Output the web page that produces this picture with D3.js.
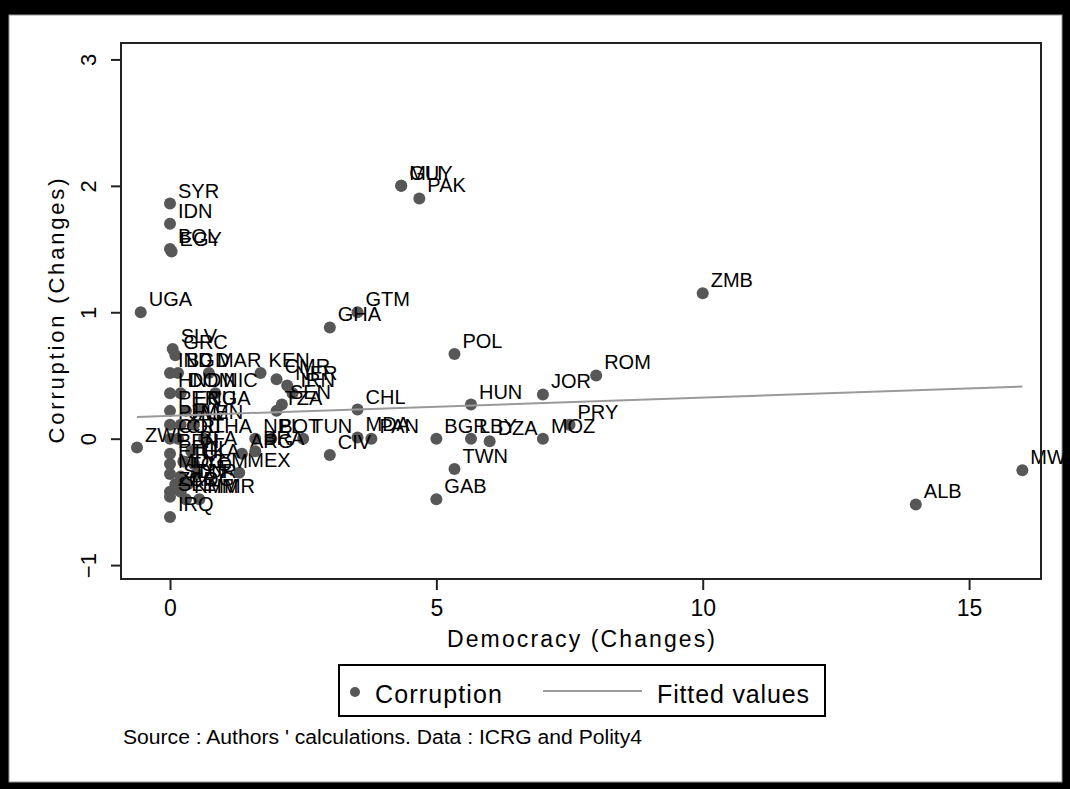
<!DOCTYPE html>
<html>
<head>
<meta charset="utf-8">
<script src="https://cdn.jsdelivr.net/npm/d3@7"></script>
<style>
  body { margin: 0; background: #000; }
  svg { display: block; }
  text { font-family: "Liberation Sans", Arial, sans-serif; }
</style>
</head>
<body>
<script>
// country codes, democracy change (x), corruption change (y)
const countries = ["MWI","ALB","ZMB","ROM","JOR","PRY","MOZ","HUN","BGR","LBY","DZA","TWN","GAB","POL",
  "PAK","GUY","MLI","GTM","GHA","CHL","MDA","PAN","CIV","TUN","BOT","NPL","THA","KEN","CMR","NER","IRN",
  "SEN","TZA","MEX","ARG","BRA","SYR","IDN","BOL","EGY","UGA","SLV","GRC","IND","BGD","MAR","HND","DOM",
  "NIC","PER","ECU","NGA","PHL","JAM","VEN","COL","CRI","ZWE","BEN","BFA","ETH","HTI","LKA","MDG","TGO",
  "YEM","SDN","TUR","ZAR","COG","SLE","KHM","MMR","IRQ"];
const democracy = [16.0,14.0,10.0,8.0,7.0,7.5,7.0,5.65,5.0,5.65,6.0,5.34,5.0,5.34,
  4.68,4.34,4.34,3.52,3.0,3.52,3.52,3.78,3.0,2.5,1.9,1.6,0.64,1.7,2.0,2.2,2.3,
  2.1,2.0,1.3,1.35,1.6,0,0,0,0.03,-0.55,0.05,0.1,0,0.15,0.73,0,0.2,
  0.85,0,0.3,0.55,0,0.2,0.45,0,0.15,-0.62,0,0.4,0,0.25,0.45,0,0.2,
  0.5,0.1,0.33,0,0.2,0,0.3,0.55,0];
const corruption = [-0.25,-0.52,1.15,0.5,0.35,0.11,0.0,0.27,0.0,0.0,-0.02,-0.24,-0.48,0.67,
  1.9,2.0,2.0,1.0,0.88,0.23,0.01,0.0,-0.13,0.0,0.0,0.0,0.0,0.52,0.47,0.42,0.36,
  0.27,0.22,-0.27,-0.12,-0.1,1.86,1.7,1.5,1.48,1.0,0.71,0.66,0.52,0.52,0.52,0.36,0.36,
  0.36,0.22,0.22,0.22,0.11,0.11,0.11,0.0,0.0,-0.07,-0.12,-0.1,-0.2,-0.18,-0.2,-0.28,-0.3,
  -0.28,-0.36,-0.36,-0.42,-0.42,-0.46,-0.48,-0.48,-0.62];

// fitted values line (end points)
const fitX = [-0.62, 16.0];
const fitY = [0.172, 0.412];

const xTicks = [0, 5, 10, 15];
const yTicks = [-1, 0, 1, 2, 3];

const W = 1070, H = 789;
const plot = { left: 121, right: 1041, top: 43, bottom: 579 };

const svg = d3.select('body').append('svg')
  .attr('width', W).attr('height', H);

// outer black frame + white page
svg.append('rect').attr('width', W).attr('height', H).attr('fill', '#000');
svg.append('rect').attr('x', 9).attr('y', 15).attr('width', 1053).attr('height', 767)
  .attr('fill', '#fff').attr('stroke', '#999').attr('stroke-width', 1);

const x = d3.scaleLinear().domain([-0.92, 16.35]).range([plot.left, plot.right]);
const y = d3.scaleLinear().domain([-1.11, 3.13]).range([plot.bottom, plot.top]);

// axes
const xAxis = svg.append('g')
  .attr('transform', `translate(0,${plot.bottom})`)
  .call(d3.axisBottom(x).tickValues(xTicks).tickSize(11).tickPadding(10).tickFormat(d3.format('d')));
xAxis.select('.domain').remove();
xAxis.selectAll('line').attr('stroke', '#222').attr('stroke-width', 2);
xAxis.selectAll('text').attr('fill', '#000').attr('font-size', 23)
  .attr('font-family', '"Liberation Sans", Arial, sans-serif');

const yAxis = svg.append('g')
  .attr('transform', `translate(${plot.left},0)`)
  .call(d3.axisLeft(y).tickValues(yTicks).tickSize(10).tickFormat(d3.format('d')));
yAxis.select('.domain').remove();
yAxis.selectAll('line').attr('stroke', '#222').attr('stroke-width', 2);
yAxis.selectAll('text').remove();
yAxis.selectAll('.tick').append('text')
  .attr('transform', 'translate(-25,0) rotate(-90)')
  .attr('text-anchor', 'middle')
  .attr('fill', '#000').attr('font-size', 22)
  .attr('font-family', '"Liberation Sans", Arial, sans-serif')
  .text(d => d3.format('d')(d));

// points + labels
const pts = countries.map((c, i) => ({ c, dx: democracy[i], cr: corruption[i] }));
const g = svg.append('g');
pts.forEach(p => {
  g.append('circle')
    .attr('cx', x(p.dx)).attr('cy', y(p.cr)).attr('r', 6)
    .attr('fill', '#575757');
  g.append('text')
    .attr('x', x(p.dx) + 8).attr('y', y(p.cr) - 6)
    .attr('font-size', 20).attr('fill', '#000')
    .text(p.c);
});

// fitted line
svg.append('path')
  .datum(fitX.map((v, i) => [v, fitY[i]]))
  .attr('d', d3.line().x(d => x(d[0])).y(d => y(d[1])))
  .attr('fill', 'none').attr('stroke', '#9a9a9a').attr('stroke-width', 2);

// plot frame
svg.append('rect')
  .attr('x', plot.left).attr('y', plot.top)
  .attr('width', plot.right - plot.left).attr('height', plot.bottom - plot.top)
  .attr('fill', 'none').attr('stroke', '#222').attr('stroke-width', 2);

// axis titles
svg.append('text')
  .attr('x', (plot.left + plot.right) / 2).attr('y', 647)
  .attr('text-anchor', 'middle').attr('font-size', 23)
  .attr('textLength', 268).attr('lengthAdjust', 'spacing')
  .text('Democracy (Changes)');

svg.append('text')
  .attr('transform', `translate(64,${(plot.top + plot.bottom) / 2}) rotate(-90)`)
  .attr('text-anchor', 'middle').attr('font-size', 22)
  .attr('textLength', 265).attr('lengthAdjust', 'spacing')
  .text('Corruption (Changes)');

// legend
const lg = svg.append('g');
lg.append('rect').attr('x', 339).attr('y', 665).attr('width', 486).attr('height', 51)
  .attr('fill', '#fff').attr('stroke', '#000').attr('stroke-width', 2);
lg.append('circle').attr('cx', 355).attr('cy', 692).attr('r', 5).attr('fill', '#575757');
lg.append('text').attr('x', 375).attr('y', 703).attr('font-size', 25)
  .attr('textLength', 127).attr('lengthAdjust', 'spacing').text('Corruption');
lg.append('line').attr('x1', 543).attr('x2', 642).attr('y1', 691).attr('y2', 691)
  .attr('stroke', '#9a9a9a').attr('stroke-width', 2);
lg.append('text').attr('x', 657).attr('y', 703).attr('font-size', 25)
  .attr('textLength', 152).attr('lengthAdjust', 'spacing').text('Fitted values');

// note
svg.append('text').attr('x', 123).attr('y', 744).attr('font-size', 20)
  .attr('textLength', 519).attr('lengthAdjust', 'spacingAndGlyphs')
  .text("Source : Authors ' calculations. Data : ICRG and Polity4");
</script>
</body>
</html>
